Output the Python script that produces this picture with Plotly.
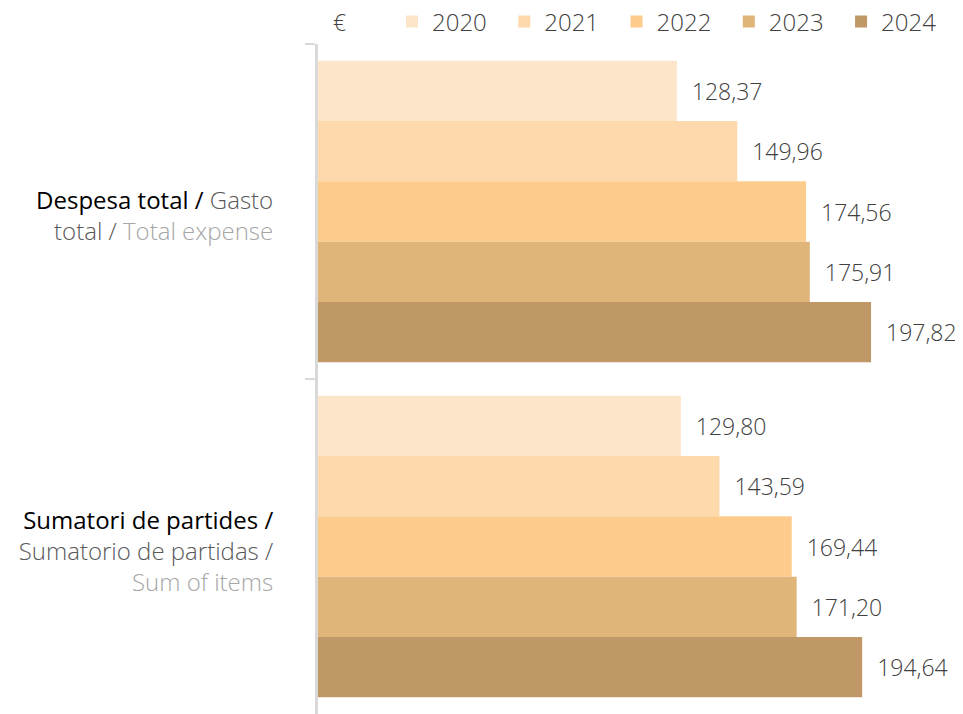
import plotly.graph_objects as go

# categories (y axis), top to bottom
categories = [
    "<span style='color:#000000'>Despesa total /</span> <span style='color:#595959;font-weight:300'>Gasto</span><br>"
    "<span style='color:#595959;font-weight:300'>total /</span> <span style='color:#a6a6a6;font-weight:300'>Total expense</span>",
    "<span style='color:#000000'>Sumatori de partides /</span><br>"
    "<span style='color:#595959;font-weight:300'>Sumatorio de partidas /</span><br>"
    "<span style='color:#a6a6a6;font-weight:300'>Sum of items</span>",
]
years = ["2020", "2021", "2022", "2023", "2024"]
values = {
    "2020": [128.37, 129.80],
    "2021": [149.96, 143.59],
    "2022": [174.56, 169.44],
    "2023": [175.91, 171.20],
    "2024": [197.82, 194.64],
}
colors = ["#FDE5CA", "#FDD9AB", "#FDCC8C", "#E0B579", "#C09868"]

FONT = "Open Sans"
# the page body adds 8px of margin, so the figure is 8px smaller than the window
W, H = 955, 706
L, T = 310, 36
PW, PH = W - L, H - T

fig = go.Figure()
for yr, col in zip(years, colors):
    vals = values[yr]
    fig.add_trace(go.Bar(
        y=categories, x=vals, name=yr + "\u00a0\u00a0", orientation="h",
        marker=dict(color=col, line=dict(width=0)),
        text=["\u00a0\u00a0" + f"{v:.2f}".replace(".", ",") for v in vals],
        textposition="outside", cliponaxis=False,
        textfont=dict(size=23, color="#404040", family=FONT, weight=300),
    ))

fig.update_layout(
    width=W, height=H,
    margin=dict(l=L, r=0, t=T, b=0, autoexpand=False),
    barmode="group", bargap=0.1, bargroupgap=0,
    plot_bgcolor="white", paper_bgcolor="white",
    font=dict(family=FONT, size=23, color="#404040", weight=300),
    showlegend=True,
    legend=dict(orientation="h", x=(384 - L) / PW, xanchor="left", y=1 + 22 / PH, yanchor="middle",
                traceorder="normal", itemwidth=30,
                font=dict(size=24, color="#404040", family=FONT, weight=300)),
)
fig.update_xaxes(range=[0, 230.7], visible=False, showgrid=False, zeroline=False)
fig.update_yaxes(autorange="reversed", showline=True, linecolor="#d9d9d9", linewidth=3,
                 ticks="outside", ticklen=10, tickwidth=2, tickcolor="#d9d9d9",
                 tickson="boundaries", ticklabelstandoff=37, ticklabelshift=-5,
                 showgrid=False, automargin=False,
                 tickfont=dict(size=24, family=FONT, weight=400))
fig.add_annotation(text="€", xref="paper", yref="paper", x=(331 - L) / PW, y=1 + 22 / PH,
                   showarrow=False, xanchor="center", yanchor="middle",
                   font=dict(size=23, color="#404040", family=FONT, weight=300))

fig.write_html("out.html")
